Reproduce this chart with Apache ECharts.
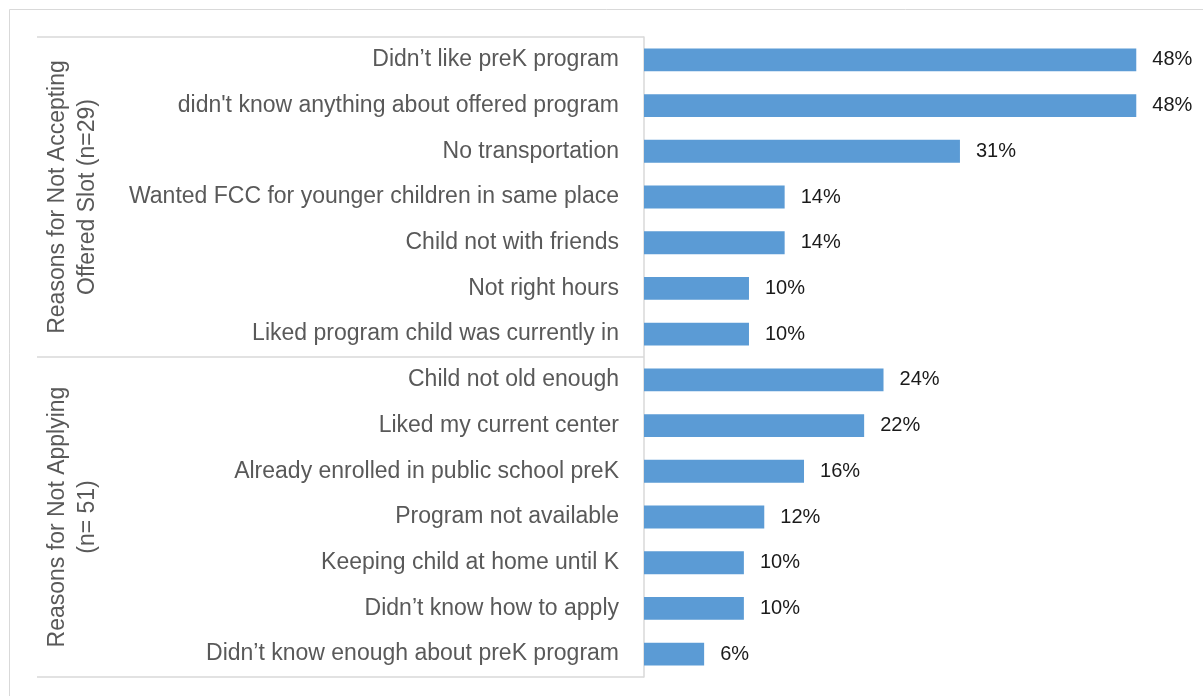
<!DOCTYPE html>
<html>
<head>
<meta charset="utf-8">
<script src="https://cdn.jsdelivr.net/npm/echarts@6/dist/echarts.min.js"></script>
<style>
html,body{margin:0;padding:0;background:#fff;}
#c{width:1203px;height:696px;}
</style>
</head>
<body>
<div id="c"></div>
<script>
const categories = [
  "Didn’t like preK program",
  "didn't know anything about offered program",
  "No transportation",
  "Wanted FCC for younger children in same place",
  "Child not with friends",
  "Not right hours",
  "Liked program child was currently in",
  "Child not old enough",
  "Liked my current center",
  "Already enrolled in public school preK",
  "Program not available",
  "Keeping child at home until K",
  "Didn’t know how to apply",
  "Didn’t know enough about preK program"
];
const values = [48.3, 48.3, 31.0, 13.8, 13.8, 10.3, 10.3, 23.5, 21.6, 15.7, 11.8, 9.8, 9.8, 5.9];
const groupLabels = [
  "Reasons for Not Accepting\nOffered Slot (n=29)",
  "Reasons for Not Applying\n(n= 51)"
];
const groupSizes = [7, 7];

const FONT = '"Liberation Sans", Arial, sans-serif';
const chart = echarts.init(document.getElementById('c'), null, {renderer: 'canvas'});

const option = {
  animation: false,
  backgroundColor: '#fff',
  grid: {left: 644, right: 49.4, top: 37, bottom: 19, containLabel: false},
  xAxis: {
    type: 'value', min: 0, max: 50,
    show: false
  },
  yAxis: {
    type: 'category', inverse: true, data: categories,
    axisLine: {show: true, lineStyle: {color: '#d9d9d9', width: 1.5}},
    axisTick: {
      show: true, length: 607,
      lineStyle: {color: '#d9d9d9', width: 1.5},
      interval: function (i) { return i === 0 || i === 7 || i === 14; }
    },
    axisLabel: {color: '#595959', fontSize: 23, fontFamily: FONT, margin: 25, padding: [7, 0, 0, 0]}
  },
  series: [{
    type: 'bar', data: values, barCategoryGap: '50%',
    itemStyle: {color: '#5B9BD5'},
    label: {
      show: true, position: 'right', distance: 16,
      color: '#1a1a1a', fontSize: 20, fontFamily: FONT, padding: [3, 0, 0, 0],
      formatter: function (p) { return Math.round(p.value) + '%'; }
    }
  }]
};
chart.setOption(option);

// group labels positioned from the category scale
const graphics = [{
  type: 'rect', shape: {x: 9.5, y: 9.5, width: 1300, height: 800},
  style: {fill: 'none', stroke: '#d9d9d9', lineWidth: 1}, silent: true, z: -1
}];
let start = 0;
groupSizes.forEach(function (n, gi) {
  const y0 = chart.convertToPixel({yAxisIndex: 0}, categories[start]);
  const y1 = chart.convertToPixel({yAxisIndex: 0}, categories[start + n - 1]);
  const yc = (y0 + y1) / 2;
  graphics.push({
    type: 'text', x: 73, y: yc, rotation: Math.PI / 2,
    style: {
      text: groupLabels[gi], fill: '#595959', font: '23px ' + FONT,
      align: 'center', verticalAlign: 'middle', lineHeight: 30
    }
  });
  start += n;
});
chart.setOption({graphic: graphics});
</script>
</body>
</html>
